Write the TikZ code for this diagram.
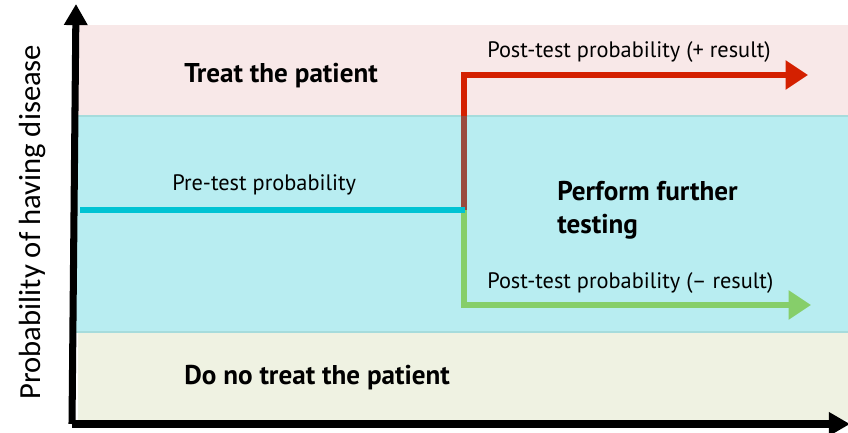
\documentclass[tikz,border=0pt]{standalone}
\usepackage{fontspec}
\setmainfont{PT Sans}
\newfontfamily\axisfont{Carlito}
\usetikzlibrary{arrows.meta}

\definecolor{treatbg}{HTML}{F8E8E8}
\definecolor{testbg}{HTML}{B8EDF1}
\definecolor{notreatbg}{HTML}{EFF2E2}
\definecolor{bandedge}{HTML}{A6DCDC}
\definecolor{pretest}{HTML}{00C3D3}
\definecolor{positive}{HTML}{D42000}
\definecolor{positivedim}{HTML}{9A4A3E}
\definecolor{negative}{HTML}{86CE6A}

\begin{document}
\begin{tikzpicture}[x=0.025cm,y=-0.025cm]
    \tikzstyle{zone}=[font=\bfseries\fontsize{19.3}{23.5}\selectfont, anchor=west, inner sep=0pt, align=left]
    \tikzstyle{prob}=[font=\fontsize{15.9}{18}\selectfont, anchor=west, inner sep=0pt]
    \tikzstyle{track}=[line width=4.3pt, line join=miter]
    \tikzstyle{axis}=[line width=5pt, -{Triangle[length=15pt,width=16pt]}]

    \useasboundingbox (0,0) rectangle (848,433);

    % decision zones
    \fill[treatbg] (76,25) rectangle (848,116);
    \fill[testbg] (76,116) rectangle (848,332);
    \fill[notreatbg] (78,332) rectangle (848,420);
    \draw[bandedge, line width=1.4pt] (76,116) -- (848,116);
    \draw[bandedge, line width=1.4pt] (76,332) -- (848,332);

    % axes
    \coordinate (origin) at (76,424);
    \coordinate (ytip) at (76,4);
    \coordinate (xtip) at (850,424);
    \draw[axis] (72,424) -- (ytip);
    \draw[axis] (72,424) -- (xtip);

    % probability tracks
    \coordinate (start) at (80,210);
    \coordinate (split) at (464,210);
    \coordinate (edge) at (464,116);
    \coordinate (posend) at (808,75);
    \coordinate (negend) at (811,305);

    \draw[track, positive, -{Triangle[length=16pt,width=20pt]}] (split) |- (posend);
    \draw[track, positivedim] (split) -- (edge);
    \draw[track, negative, -{Triangle[length=16pt,width=20pt]}] (split) |- (negend);
    \draw[track, pretest] (start) -- ([xshift=1]split);

    \node[zone] (treat) at (184,76) {Treat the patient};
    \node[prob] (postpos) at (487,52) {Post-test probability (+ result)};
    \node[prob] (pre) at (172,185) {Pre-test probability};
    \node[zone] (further) at (557,210) {Perform further\\testing};
    \node[prob] (postneg) at (487,283) {Post-test probability (– result)};
    \node[zone] (notreat) at (184,378) {Do no treat the patient};

    \node[rotate=90, inner sep=0pt, font=\axisfont\fontsize{21.8}{24}\selectfont] (ylabel) at (32,222) {Probability of having disease};
\end{tikzpicture}
\end{document}
